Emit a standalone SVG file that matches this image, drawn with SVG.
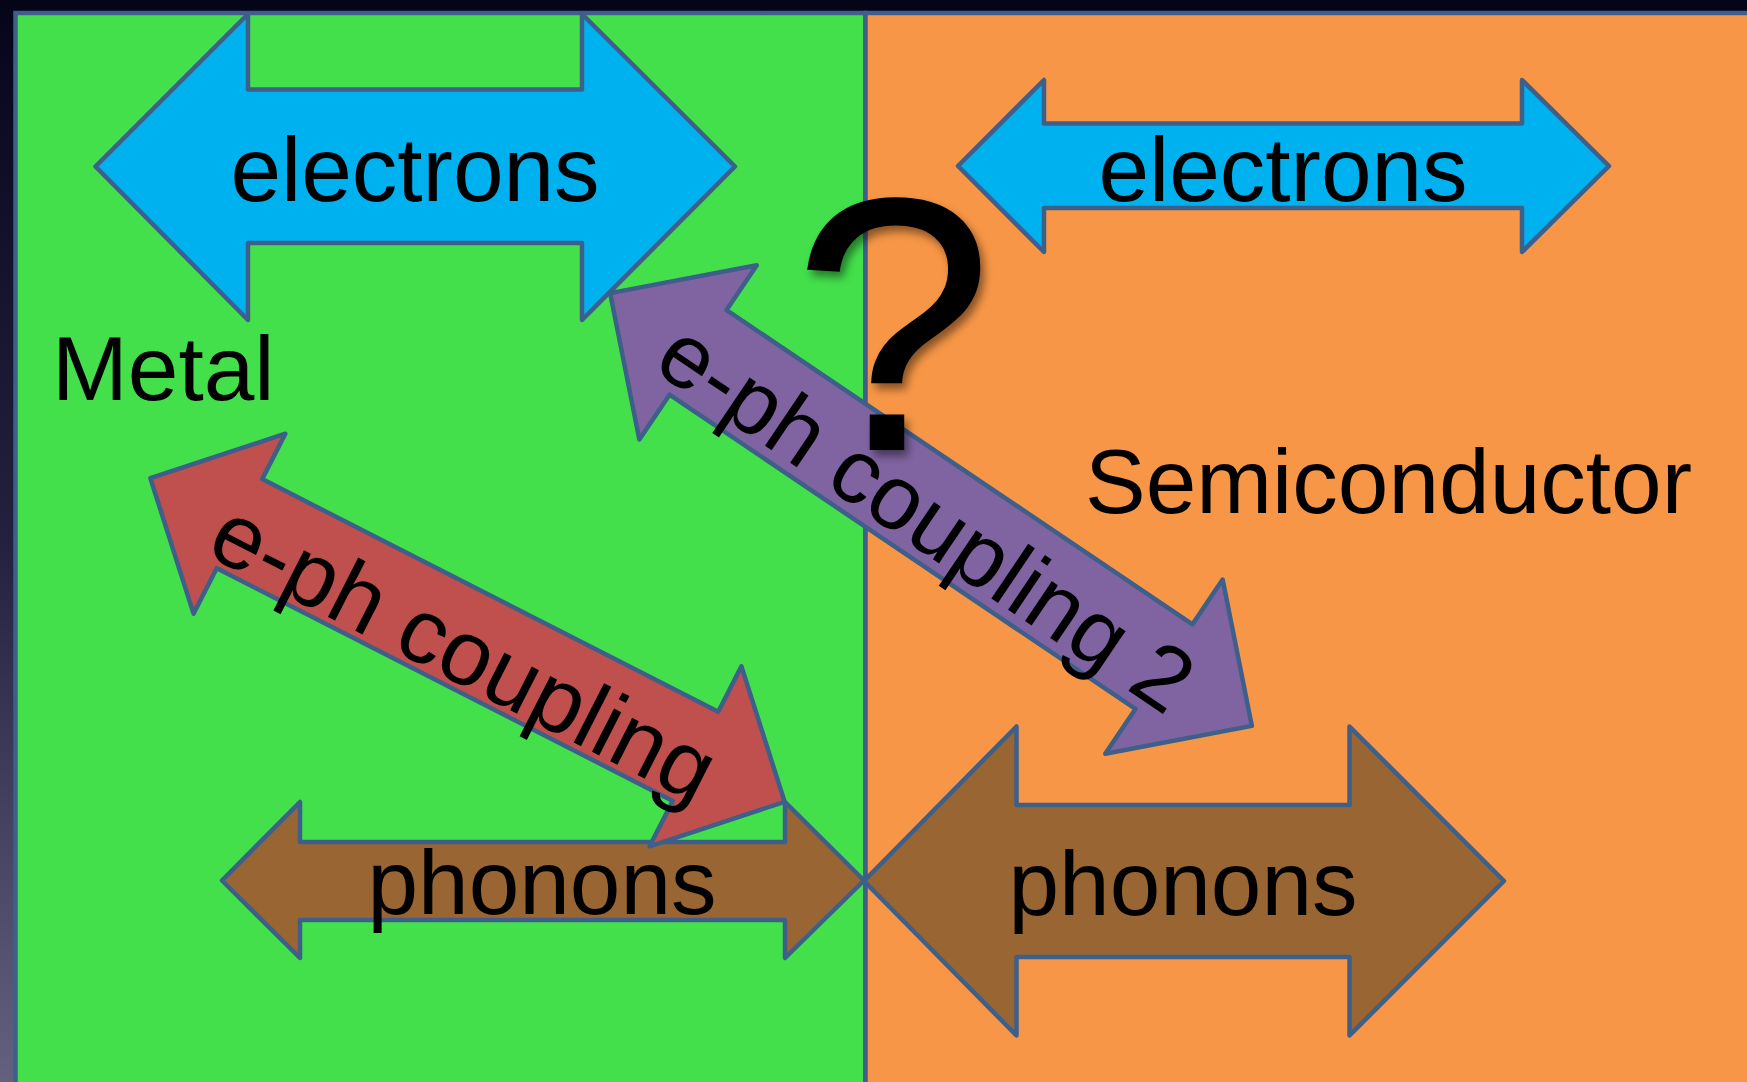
<svg xmlns="http://www.w3.org/2000/svg" width="1747" height="1082" viewBox="0 0 1747 1082">
  <defs>
    <linearGradient id="bg" x1="0" y1="0" x2="0" y2="1">
      <stop offset="0" stop-color="#05051a"/>
      <stop offset="0.5" stop-color="#22223e"/>
      <stop offset="1" stop-color="#62627e"/>
    </linearGradient>
    <filter id="shadow" x="-20%" y="-20%" width="150%" height="150%">
      <feDropShadow dx="4" dy="6" stdDeviation="4" flood-color="#000" flood-opacity="0.45"/>
    </filter>
    <style>
      .panel { stroke: #3d5f8a; stroke-width: 4.5; }
      .arrow { stroke: #3d5f8a; stroke-width: 4.5; stroke-linejoin: round; }
      .blue { fill: #00b1f0; }
      .brown { fill: #996633; }
      .red { fill: #c0504d; }
      .purple { fill: #8064a2; }
      .lbl { font-family: "Liberation Sans", Arial, Helvetica, sans-serif; font-size: 91px; fill: #000; }
      .mid { text-anchor: middle; }
    </style>
  </defs>

  <rect x="0" y="0" width="1747" height="1082" fill="url(#bg)"/>

  <g id="metal-panel">
    <rect class="panel" x="15.5" y="13" width="850" height="1100" fill="#43e04b"/>
    <text class="lbl" x="52" y="400">Metal</text>
  </g>
  <g id="semiconductor-panel">
    <rect class="panel" x="865.5" y="13" width="900" height="1100" fill="#f79646"/>
    <text class="lbl" x="1085" y="513">Semiconductor</text>
  </g>

  <g id="connectors">
    <g id="electrons-metal">
      <polygon class="arrow blue" points="95.5,166.5 248,14 248,89.5 582,89.5 582,14 735,166.5 582,320 582,243 248,243 248,320"/>
      <text class="lbl mid" x="415" y="201">electrons</text>
    </g>
    <g id="electrons-semi">
      <polygon class="arrow blue" points="958,166 1044,80 1044,123.5 1522,123.5 1522,80 1609,166 1522,252 1522,208 1044,208 1044,252"/>
      <text class="lbl mid" x="1283" y="201">electrons</text>
    </g>
    <g id="phonons-metal">
      <polygon class="arrow brown" points="222,880.5 300,802 300,842 785,842 785,802 864,880.5 785,958 785,920 300,920 300,958"/>
      <text class="lbl mid" x="542" y="914">phonons</text>
    </g>
    <g id="phonons-semi">
      <polygon class="arrow brown" points="864,881 1016.5,726.5 1016.5,805 1349.5,805 1349.5,726.5 1504,881 1349.5,1035.5 1349.5,957 1016.5,957 1016.5,1035.5"/>
      <text class="lbl mid" x="1183" y="915">phonons</text>
    </g>
    <g id="eph-coupling" transform="translate(467.5,640) rotate(27.03)">
      <polygon class="arrow red" points="-356,0 -256,-101 -256,-50 256,-50 256,-101 356,0 256,101 256,50 -256,50 -256,101"/>
      <text class="lbl mid" x="2" y="43" style="font-size:92px">e-ph coupling</text>
    </g>
    <g id="eph-coupling-2" transform="translate(931,509.5) rotate(34)">
      <polygon class="arrow purple" points="-387,0 -281,-105 -281,-51 281,-51 281,-105 387,0 281,105 281,51 -281,51 -281,105"/>
      <text class="lbl mid" x="0" y="40" style="font-size:91px">e-ph coupling 2</text>
    </g>
  </g>

  <g id="question">
    <text class="lbl mid" x="893" y="450" style="font-size:362px" filter="url(#shadow)">?</text>
  </g>
</svg>
